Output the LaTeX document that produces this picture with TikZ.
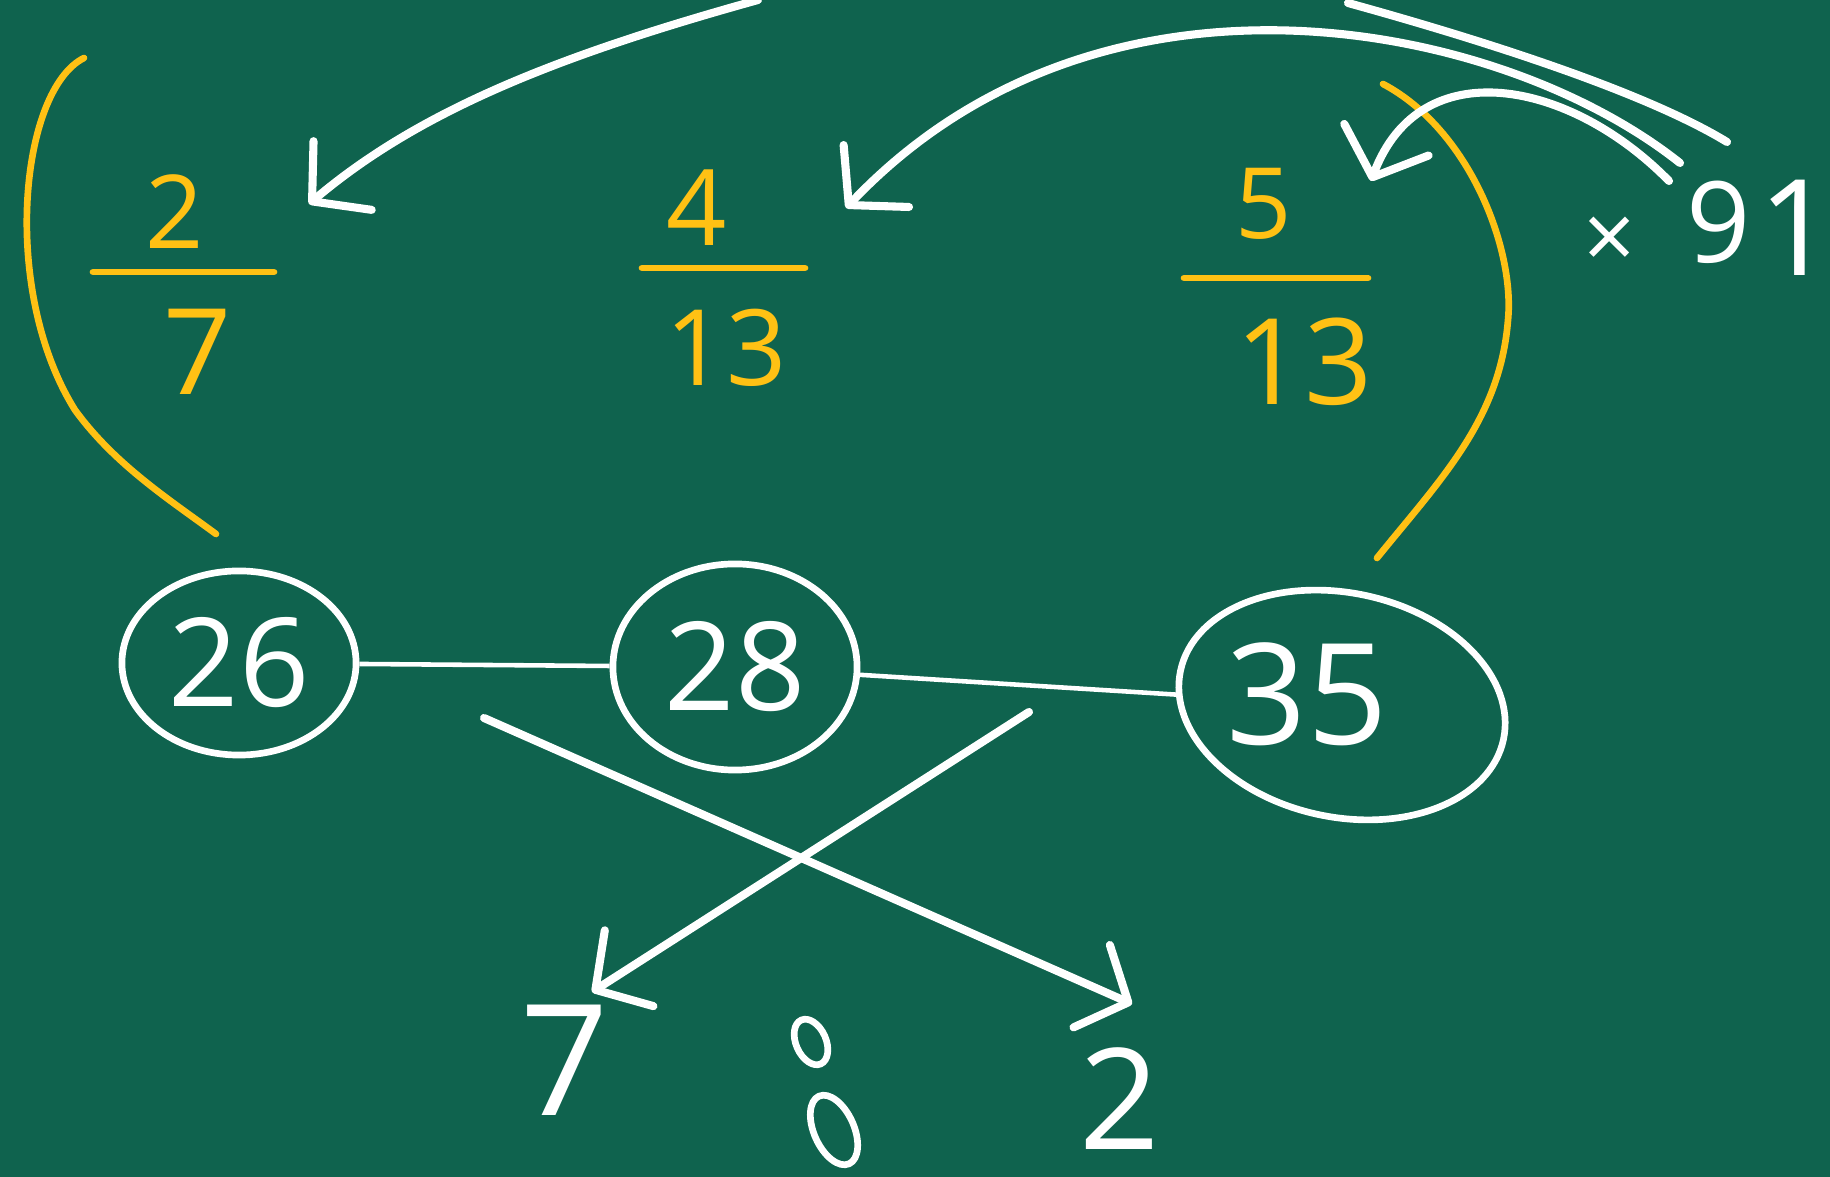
\documentclass[tikz,border=0pt]{standalone}
\usepackage{fontspec}
\setmainfont{Open Sans}
\usetikzlibrary{arrows.meta,shapes.geometric}
\definecolor{board}{RGB}{15,99,78}
\definecolor{chalkyellow}{RGB}{255,193,20}
\begin{document}
\begin{tikzpicture}[x=0.01cm,y=-0.01cm]
    \tikzset{
        vertex/.style={draw=white, ellipse, line width=1.9pt, text=white, inner sep=0pt},
        arc/.style={-{Straight Barb[length=4mm,width=9mm,round]}, white, line width=2.3pt, line cap=round},
        link/.style={white, line width=1.3pt},
        bracket/.style={chalkyellow, line width=1.9pt, line cap=round},
        digit/.style={text=chalkyellow, inner sep=0pt},
        chalk/.style={text=white, inner sep=0pt}
    }
    \fill[board] (0,0) rectangle (1830,1177);
    \useasboundingbox (0,0) rectangle (1830,1177);

    % fractions
    \node[digit, font=\fontsize{29}{29}\selectfont] (n2) at (175,212) {2};
    \node[digit, font=\fontsize{34}{34}\selectfont] (d7) at (198,352) {7};
    \draw[bracket] (93,272) -- (274,272);
    \node[digit, font=\fontsize{30}{30}\selectfont] (n4) at (697,208) {4};
    \node[digit, font=\fontsize{30}{30}\selectfont] (d13a) at (726,348) {13};
    \draw[bracket] (642,268) -- (805,268);
    \node[digit, font=\fontsize{28}{28}\selectfont] (n5) at (1264,204) {5};
    \node[digit, font=\fontsize{34}{34}\selectfont] (d13b) at (1304,362) {13};
    \draw[bracket] (1184,278) -- (1368,278);

    % yellow brackets
    \draw[bracket] (84,58) .. controls (20,90) and (0,290) .. (75,410) .. controls (115,465) and (170,500) .. (216,534);
    \draw[bracket] (1383,84) .. controls (1470,130) and (1515,250) .. (1508,320) .. controls (1500,420) and (1440,480) .. (1377,558);

    % circled numbers
    \node[vertex, minimum width=2.34cm, minimum height=1.84cm, font=\fontsize{35}{35}\selectfont] (c26) at (239,663) {26};
    \node[vertex, minimum width=2.44cm, minimum height=2.06cm, font=\fontsize{35}{35}\selectfont] (c28) at (735,667) {28};
    \node[vertex, minimum width=3.3cm, minimum height=2.24cm, rotate=-12] (c35) at (1342,705) {};
    \node[chalk, font=\fontsize{40}{40}\selectfont] (t35) at (1307,694) {35};
    \foreach \x/\y in {%
        c26/c28, c28/c35%
    }{
        \draw[link] (\x) -- (\y);
    }

    % crossing arrows
    \coordinate (s1) at (484,718);
    \coordinate (e1) at (1132,1004);
    \coordinate (s2) at (1029,712);
    \coordinate (e2) at (592,992);
    \draw[arc] (s1) -- (e1);
    \draw[arc] (s2) -- (e2);

    % ratio below
    \node[chalk, font=\fontsize{44}{44}\selectfont] (b7) at (565,1060) {7};
    \node[vertex, minimum width=0.3cm, minimum height=0.48cm, rotate=24] (dotA) at (811,1042) {};
    \node[vertex, minimum width=0.4cm, minimum height=0.74cm, rotate=24] (dotB) at (834,1130) {};
    \node[chalk, font=\fontsize{40}{40}\selectfont, anchor=base] (b2) at (1120,1150) {2};

    % multiplier
    \node[chalk, font=\fontsize{26}{26}\selectfont] (times) at (1610,243) {×};
    \node[chalk, font=\fontsize{32}{32}\selectfont] (m9) at (1719,222) {9};
    \node[chalk, font=\fontsize{38}{38}\selectfont] (m1) at (1797,228) {1};

    % top arrows
    \draw[arc] (758,0) .. controls (560,55) and (420,110) .. (309,204);
    \draw[arc] (1680,163) .. controls (1500,20) and (1100,-60) .. (846,208);
    \draw[white, line width=2.3pt, line cap=round] (1348,3) .. controls (1500,45) and (1650,95) .. (1727,142);
    \draw[arc] (1669,181) .. controls (1570,80) and (1420,50) .. (1371,181);
\end{tikzpicture}
\end{document}
